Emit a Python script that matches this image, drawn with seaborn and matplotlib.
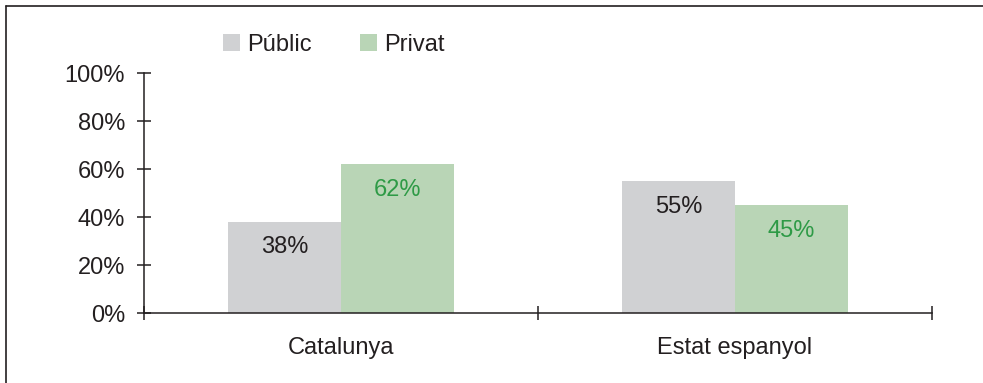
import matplotlib
matplotlib.use("Agg")
import matplotlib.pyplot as plt
from matplotlib.lines import Line2D
from matplotlib.patches import Patch
import seaborn as sns
import pandas as pd

# Share of students by school ownership
categories = ["Catalunya", "Estat espanyol"]
sectors = ["Públic", "Privat"]
public_share = [38, 55]
private_share = [62, 45]
y_ticks = [0, 20, 40, 60, 80, 100]

colors = {"Públic": "#D0D1D3", "Privat": "#B9D5B6"}
label_colors = {"Públic": "#231F20", "Privat": "#2E9A46"}
ink = "#231F20"

df = pd.DataFrame({
    "regio": categories * 2,
    "sector": [sectors[0]] * 2 + [sectors[1]] * 2,
    "valor": public_share + private_share,
})

sns.set_theme(style="white")
plt.rcParams["font.family"] = ["Liberation Sans", "DejaVu Sans"]
plt.rcParams["text.color"] = ink

W, H = 983, 383
fig = plt.figure(figsize=(W / 100, H / 100), dpi=100)
ax = fig.add_axes([144 / W, (H - 313) / H, (932 - 144) / W, 240 / H])

sns.barplot(data=df, x="regio", y="valor", hue="sector", order=categories,
            hue_order=sectors, palette=colors, width=0.574, gap=0,
            saturation=1, linewidth=0, legend=False, ax=ax)

fs = 17
ax.set_ylim(0, 100)
ax.set_xlim(-0.5, 1.5)
ax.set_yticks(y_ticks)
ax.set_yticklabels([f"{v}%" for v in y_ticks], fontsize=fs, color=ink)
ax.set_xticks([-0.5, 0.5, 1.5])
ax.set_xticklabels([])
ax.set_xticks([0, 1], minor=True)
ax.set_xticklabels(categories, minor=True, fontsize=fs, color=ink)
ax.tick_params(axis="y", left=True, direction="inout", length=10.5, width=1.1,
               color=ink, pad=8.5)
ax.tick_params(axis="x", which="major", bottom=True, direction="inout",
               length=10.5, width=1.1, color=ink)
ax.tick_params(axis="x", which="minor", bottom=True, length=0, pad=17)
ax.set_xlabel("")
ax.set_ylabel("")
for side in ["top", "right"]:
    ax.spines[side].set_visible(False)
for side in ["left", "bottom"]:
    ax.spines[side].set_color(ink)
    ax.spines[side].set_linewidth(1.1)

# value labels inside the bars
for container, sector in zip(ax.containers, sectors):
    for bar in container:
        h = bar.get_height()
        ax.annotate(f"{h:.0f}%", (bar.get_x() + bar.get_width() / 2, h),
                    xytext=(0, -18.5), textcoords="offset points",
                    ha="center", va="center", fontsize=fs,
                    color=label_colors[sector])

handles = [Patch(facecolor=colors[s], edgecolor="none") for s in sectors]
fig.legend(handles, sectors, loc="center left",
           bbox_to_anchor=(223 / W, 1 - 45 / H), ncol=2, frameon=False,
           fontsize=fs, handlelength=0.72, handleheight=0.72,
           handletextpad=0.3, columnspacing=2.05, borderaxespad=0,
           borderpad=0)

# outer frame (top and left edges)
fig.add_artist(Line2D([6 / W, 6 / W], [0, 1 - 6 / H], color=ink, lw=1.2,
                      transform=fig.transFigure))
fig.add_artist(Line2D([6 / W, 1], [1 - 6 / H, 1 - 6 / H], color=ink, lw=1.2,
                      transform=fig.transFigure))

fig.savefig("out.png", dpi=100)
